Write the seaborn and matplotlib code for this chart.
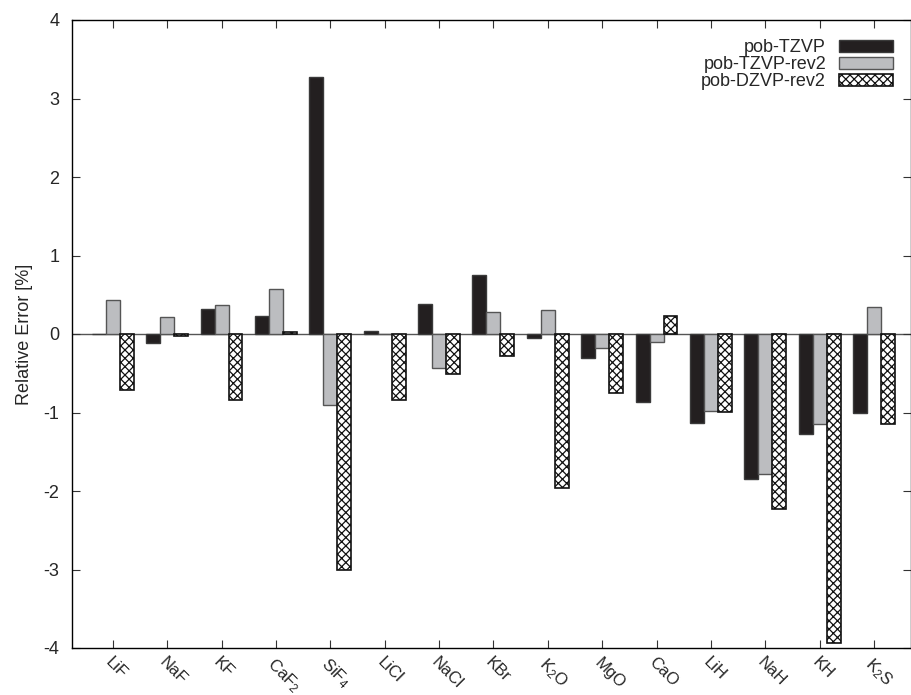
import numpy as np
import pandas as pd
import matplotlib
matplotlib.use("Agg")
import matplotlib.pyplot as plt
import seaborn as sns

compounds = ["LiF", "NaF", "KF", "CaF$_2$", "SiF$_4$", "LiCl", "NaCl", "KBr",
             "K$_2$O", "MgO", "CaO", "LiH", "NaH", "KH", "K$_2$S"]
series = ["pob-TZVP", "pob-TZVP-rev2", "pob-DZVP-rev2"]
tzvp = [0.00, -0.11, 0.32, 0.23, 3.27, 0.04, 0.38, 0.75, -0.05, -0.31, -0.86, -1.14, -1.85, -1.27, -1.01]
tzvp_rev2 = [0.43, 0.22, 0.37, 0.57, -0.91, 0.00, -0.43, 0.28, 0.31, -0.18, -0.10, -0.98, -1.78, -1.15, 0.34]
dzvp_rev2 = [-0.71, -0.03, -0.84, 0.03, -3.00, -0.84, -0.51, -0.28, -1.96, -0.75, 0.23, -0.99, -2.23, -3.94, -1.15]
yticks = [-4, -3, -2, -1, 0, 1, 2, 3, 4]

df = pd.DataFrame({
    "compound": compounds * 3,
    "series": [series[0]] * 15 + [series[1]] * 15 + [series[2]] * 15,
    "value": tzvp + tzvp_rev2 + dzvp_rev2,
})

sns.set_style("ticks")
plt.rcParams["font.family"] = ["Liberation Sans", "DejaVu Sans"]
plt.rcParams["mathtext.fontset"] = "custom"
plt.rcParams["mathtext.rm"] = "Liberation Sans"
plt.rcParams["mathtext.it"] = "Liberation Sans"
plt.rcParams["axes.unicode_minus"] = False
plt.rcParams["hatch.linewidth"] = 0.9

FS = 13

fig = plt.figure(figsize=(9.12, 6.95), dpi=100)
ax = fig.add_axes([72 / 912, 47 / 695, 839 / 912, 628 / 695])

colors = {series[0]: "#231f20", series[1]: "#bcbdc0", series[2]: "white"}
sns.barplot(data=df, x="compound", y="value", hue="series", order=compounds,
            hue_order=series, palette=colors, width=0.77, saturation=1,
            errorbar=None, ax=ax, legend=True)

edge = {0: ("#3a3a3a", 1.0, None), 1: ("#555555", 1.0, None), 2: ("#111111", 1.2, "xxxx")}
for i, cont in enumerate(ax.containers):
    ec, lw, h = edge[i]
    for p in cont:
        p.set_edgecolor(ec)
        p.set_linewidth(lw)
        if h:
            p.set_hatch(h)

ax.axhline(0, color="#555555", lw=1.0, zorder=0.5)

ax.set_xlim(-0.75, 14.68)
ax.set_ylim(-4, 4)
ax.set_yticks(yticks)
ax.set_yticklabels([str(t) for t in yticks], fontsize=FS)
ax.set_xlabel("")
ax.set_ylabel("Relative Error [%]", fontsize=FS, labelpad=8)
ax.tick_params(axis="both", direction="in", length=6, width=0.8, top=True, right=True, color="#333333")
ax.tick_params(axis="y", pad=9)
ax.tick_params(axis="x", pad=5)
for lab in ax.get_xticklabels():
    lab.set_rotation(-45)
    lab.set_ha("left")
    lab.set_va("top")
    lab.set_rotation_mode("anchor")
    lab.set_fontsize(12)
for s in ax.spines.values():
    s.set_linewidth(1.0)
    s.set_color("black")

handles, labels = ax.get_legend_handles_labels()
for i, hd in enumerate(handles):
    ec, lw, h = edge[i]
    hd.set_edgecolor(ec)
    hd.set_linewidth(lw)
    if h:
        hd.set_hatch(h)
ax.legend(handles, labels, loc="upper right", frameon=False, markerfirst=False,
          fontsize=FS, handlelength=3.0, handleheight=0.7, handletextpad=0.7,
          labelspacing=0.0, borderaxespad=0.6, bbox_to_anchor=(1.0, 0.998))

fig.savefig("out.png", dpi=100)
